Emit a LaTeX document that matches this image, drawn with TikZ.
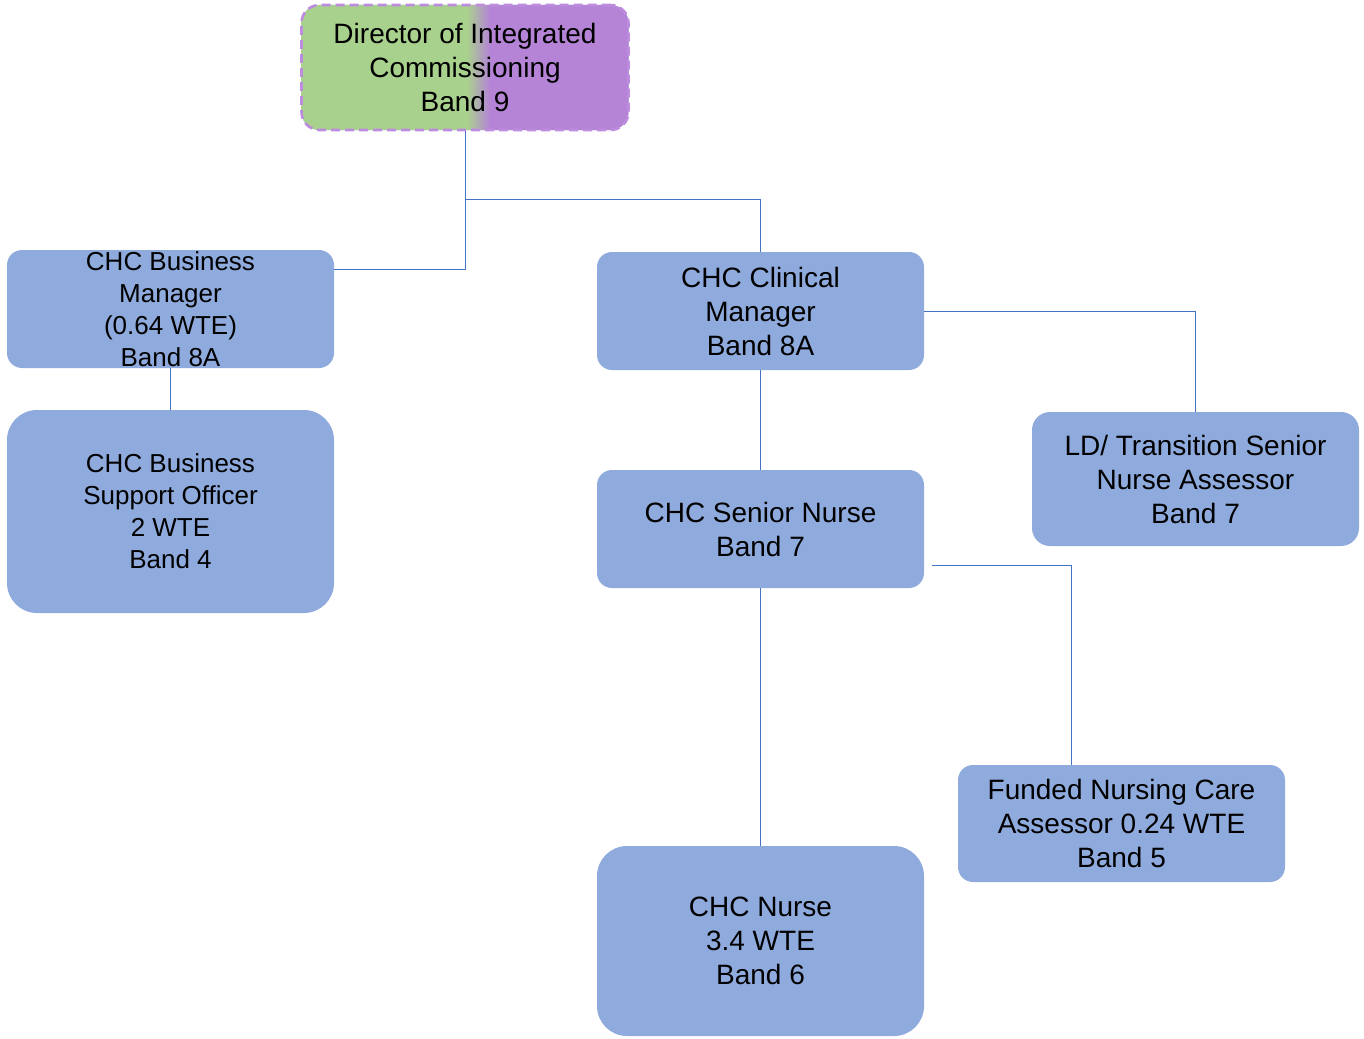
\documentclass[tikz,border=0pt]{standalone}
\usepackage{fontspec}
\setmainfont{Liberation Sans}
\usetikzlibrary{positioning}
\definecolor{boxblue}{RGB}{143,170,220}
\definecolor{linkblue}{RGB}{68,114,196}
\definecolor{dirgreen}{RGB}{169,209,142}
\definecolor{dirpurple}{RGB}{181,132,214}
\definecolor{dashpurple}{RGB}{190,140,222}
\pgfdeclarehorizontalshading{dirshade}{100bp}{color(0bp)=(dirgreen); color(50.3bp)=(dirgreen); color(53.8bp)=(dirpurple); color(100bp)=(dirpurple)}
\tikzset{
  post/.style={rounded corners=7.5pt, fill=boxblue, minimum width=163.5pt, minimum height=59pt, align=center, inner sep=0pt, font=\fontsize{14}{17}\selectfont},
  bizpost/.style={post, font=\fontsize{13}{16}\selectfont},
  link/.style={linkblue, line width=0.5pt},
}

\begin{document}
\begin{tikzpicture}[x=0.5pt,y=-0.5pt]
  \useasboundingbox (0,0) rectangle (1364,1038);
  \node[post, shading=dirshade, draw=dashpurple, dash pattern=on 4.5pt off 2.5pt, line width=1.3pt, rounded corners=9pt, minimum height=62.5pt] (dir) at (465,67.5) {Director of Integrated\\Commissioning\\Band 9};
  \node[bizpost] (biz) at (170.5,309) {CHC Business\\Manager\\(0.64 WTE)\\Band 8A};
  \node[bizpost, rounded corners=15pt, minimum height=101.5pt] (bizsupport) at (170.5,511.5) {CHC Business\\Support Officer\\2 WTE\\Band 4};
  \node[post] (clin) at (760.5,311) {CHC Clinical\\Manager\\Band 8A};
  \node[post, rounded corners=9pt, minimum height=67pt] (ld) at (1195.5,479) {LD/ Transition Senior\\Nurse Assessor\\Band 7};
  \node[post] (senior) at (760.5,529) {CHC Senior Nurse\\Band 7};
  \node[post, minimum height=58.5pt] (fnc) at (1121.5,823.5) {Funded Nursing Care\\Assessor 0.24 WTE\\Band 5};
  \node[post, rounded corners=15pt, minimum height=95pt] (nurse) at (760.5,941) {CHC Nurse\\3.4 WTE\\Band 6};
  % connectors
  \coordinate (split) at (465,199); \coordinate (bizjoin) at (465,269);
  \coordinate (fnctap) at (932,565); \coordinate (fncdrop) at (1071,0);
  \draw[link] (dir.south) -- (bizjoin) -- (bizjoin -| biz.east);
  \draw[link] (split) -| (clin.north);
  \draw[link] (biz.south) -- (bizsupport.north);
  \draw[link] (clin.east) -| (ld.north);
  \draw[link] (clin.south) -- (senior.north);
  \draw[link] (senior.south) -- (nurse.north);
  \draw[link] (fnctap) -| (fncdrop |- fnc.north);
\end{tikzpicture}
\end{document}
